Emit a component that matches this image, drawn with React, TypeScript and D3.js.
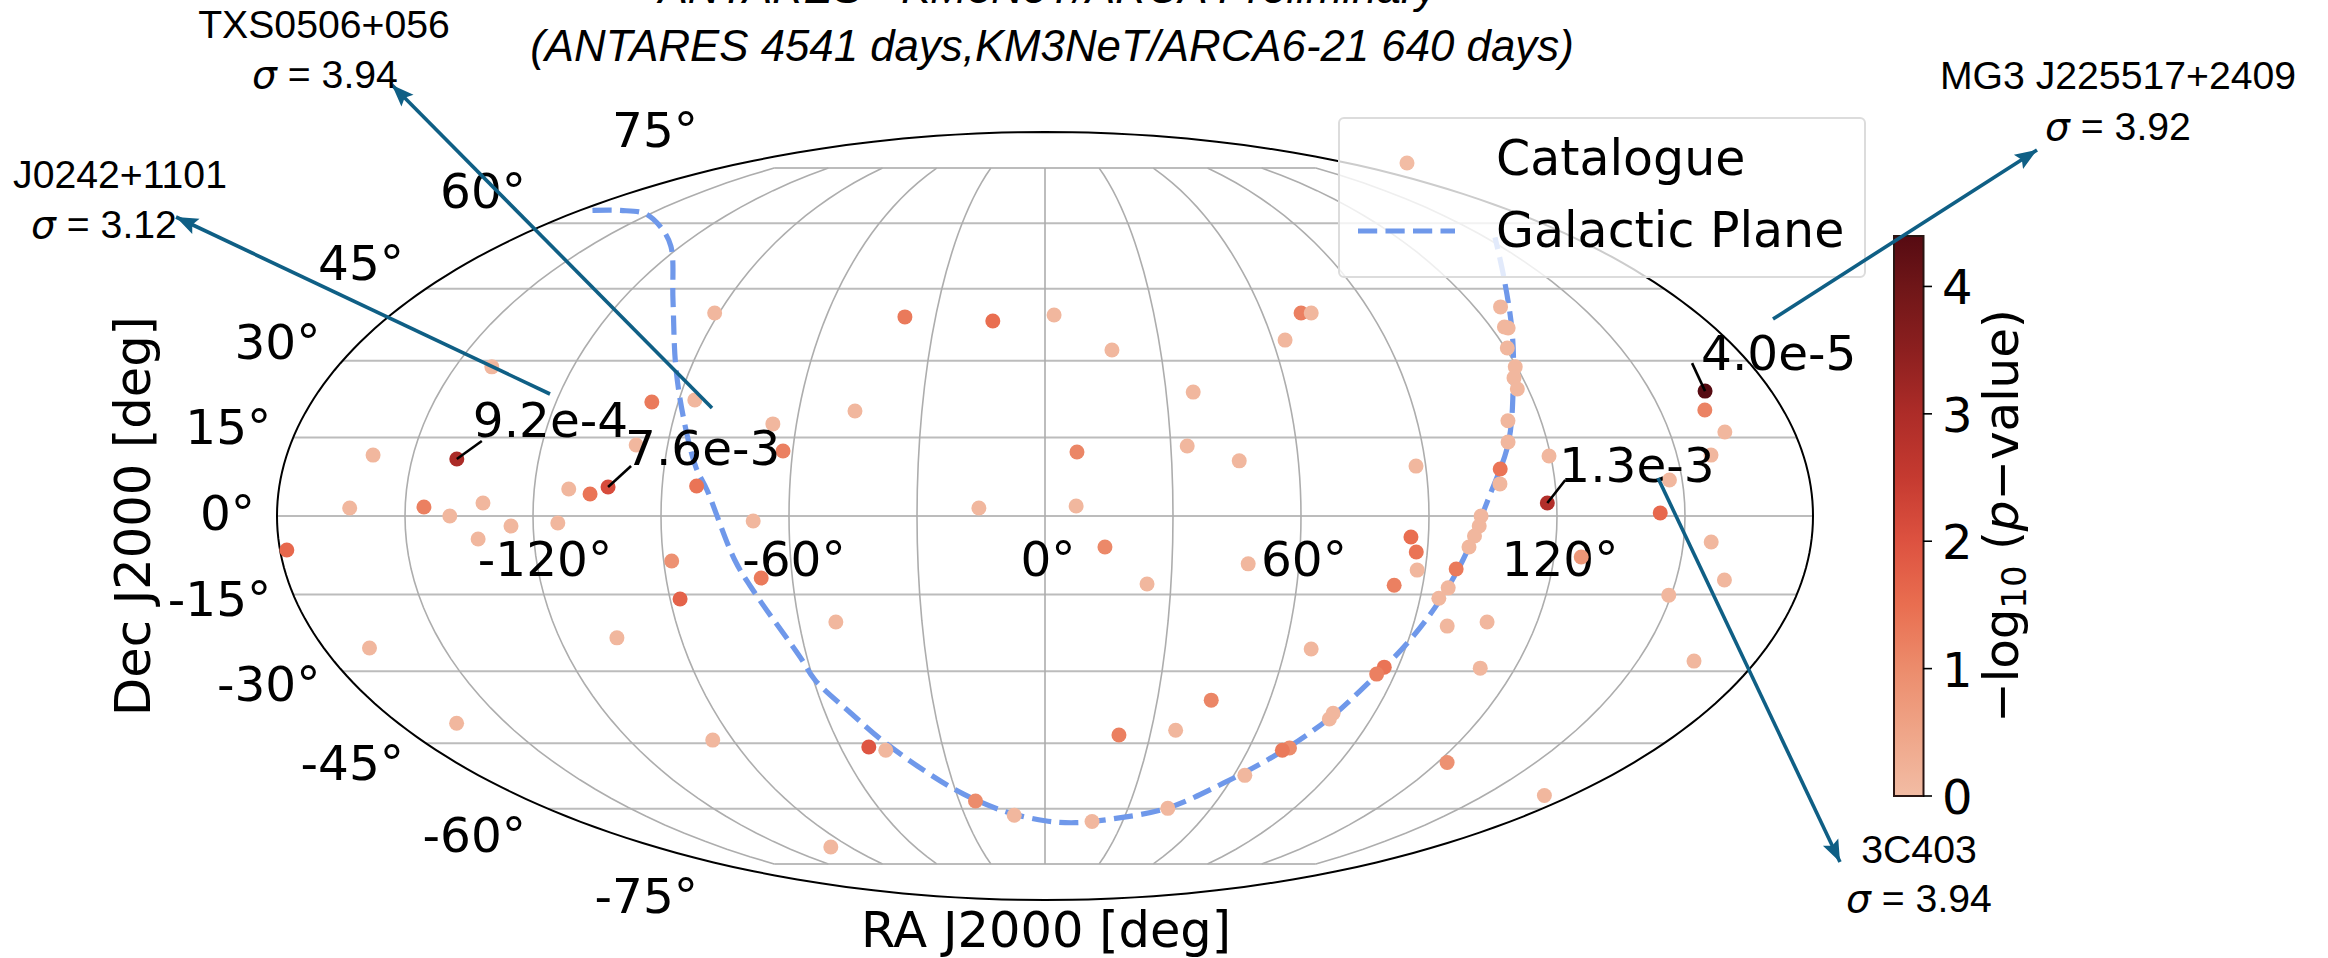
import React from 'react';
import * as d3 from 'd3';

// RA / Dec in degrees, sig = -log10(p)
const catalogueRa = [
  -91.2, -140.7, -96.5, -86.1, -65.7, -62.3, -97.5, -159.5, -139.4, -111.9, -106.8, -102.7, -81.9,
  -163, -145.6, -139.5, -131.8, -125.2, -114.2, -133.1, -178.4, -68.4, -88.1, -67.4, -87.6, -105.8,
  -168.6, -163.8, -95.9, -38.4, -14.2, 2.5, 70.7, 73.5, 63.3, 17.4, -46.3, 36.7, 33.9, 46, 7.6, 87.7,
  127.3, 123.7, 124.5, 120.5, 119.6, 117.8, 117.3, 112, 110.6, 107.5, 107, 119.6, 117.8, 163.6, 160.9,
  163.3, 158.1, 147, 144.2, 156.5, 161.5, 149.4, 126.4, 164.3, 170.7, -15.5, 7.3, 14.1, 24.3, 48,
  85.9, 87.4, 88.1, 83.2, 97.3, 96.2, 94.5, 102.2, 101.8, 100.8, 99.7, 98.4, 107.8, 111.1, 66.5, 86.5,
  85.3, 78.7, 78.5, 44.4, 36.9, 21.1, -51.7, -47.1, 71.9, 70.2, 63.5, 122.9, -24.3, -11.5, 18.2, 44.4,
  -99, -51,
];
const catalogueDec = [
  39.8, 28.8, 21.87, 22.26, 17.6, 12.39, 13.55, 11.6, 10.85, 5.13, 4.18, 5.5, 5.7,
  1.52, 1.71, 0, 2.47, -1.9, -1.33, -4.37, -6.47, -0.95, -8.56, -11.8, -15.85, -23.4,
  -25.4, -40.7, -44.3, 39, 38.15, 39.4, 39.8, 39.8, 34.2, 32.2, 20.1, 23.8, 13.35, 10.5, 12.2, 9.5,
  41.1, 36.9, 36.7, 32.6, 28.8, 26.6, 24.4, 18.2, 14.1, 8.95, 6.1, 11.43, 2.47, 24, 20.3,
  16.05, 11.6, 6.85, 0.57, -4.94, -12.2, -15.1, -7.8, -28, -56.8, 1.52, 1.9, -5.9, -12.97, -9.1,
  -4, -6.85, -10.3, -13.2, -10.1, -13.7, -15.7, 0, -1.9, -3.8, -5.9, -21.1, -20.3, -29.4, -25.6, -29.2,
  -30.6, -38.6, -39.8, -35.9, -42.2, -43.2, -45.8, -46.5, -46, -46.5, -52.1, -49.2, -58.1, -61.6, -63.2, -59.9,
  -70, -20.3,
];
const catalogueSig = [
  0.1, 0.1, 1.3, 0.1, 0.1, 1.2, 0.1, 0.1, 3.03, 0.1, 1.4, 2.12, 1.4,
  0.1, 1.2, 0.1, 0.1, 0.1, 0.1, 0.1, 1.6, 0.1, 0.9, 1.3, 1.7, 0.1,
  0.1, 0.1, 0.1, 1.3, 1.5, 0.1, 1.2, 0.1, 0.1, 0.1, 0.1, 0.1, 0.1, 0.1, 1.1, 0.1,
  0.1, 0.1, 0.1, 0.1, 0.1, 0.1, 0.1, 0.1, 0.1, 1.4, 0.1, 0.1, 2.89, 4.4, 1.15,
  0.1, 0.1, 0.1, 1.6, 0.1, 0.1, 0.1, 0.8, 0.1, 0.1, 0.1, 0.1, 1.05, 0.1, 0.1,
  1.5, 1.4, 0.1, 1.2, 1.3, 0.1, 0.1, 0.1, 0.1, 0.1, 0.1, 0.1, 0.1, 0.1, 0.1, 1.4,
  1.2, 0.1, 0.1, 1.1, 0.1, 1.2, 1.95, 0.1, 1.0, 1.3, 0.1, 0.9, 1.0, 0.1, 0.1, 0.1,
  0.1, 0.1,
];

const planeRa = [
  -175.1, -164.3, -152.1, -136.9, -123.2, -105.5, -93.9, -87.4, -82.5, -79.4, -73.2, -69.4, -61.7,
  -59.6, -53, -47.1, -36.9, -27.8, -15, 0, 11.9, 26.9, 44, 58.2, 69.9, 78.7, 83.1, 90, 94.6, 98.6,
  104.2, 110.6, 117, 124.6, 136.5, 153.3,
];
const planeDec = [
  63.2, 63.2, 62.4, 59.1, 54.5, 42.6, 28.8, 18.35, 9.3, 4.95, -8.37, -14.7, -27.2,
  -31.8, -38.6, -44.3, -51.6, -56.4, -60.6, -63, -63.5, -62.4, -59.9, -53.9, -47, -39.4, -33.8, -24.4, -16.6, -8.37,
  3.6, 13.9, 25.6, 35.7, 46.9, 56.6,
];

const raTicks = [-120, -60, 0, 60, 120];
const meridians = [-150, -120, -90, -60, -30, 0, 30, 60, 90, 120, 150];
const decTicks = [75, 60, 45, 30, 15, 0, -15, -30, -45, -60, -75];
const cbarTicks = [0, 1, 2, 3, 4];

const sigStops = [0, 0.5, 1, 1.5, 2, 2.5, 3, 3.5, 4, 4.4];
const sigColors = ['#f2bca4', '#efa588', '#ec8c6c', '#e96e50', '#dd5240', '#c53a30', '#ad2c28', '#8c1f1f', '#6f1618', '#560b12'];

// p-value labels near the hottest spots, dx/dy = text start and leader end relative to the point
const peaks = [
  { label: '9.2e-4', ra: -139.4, dec: 10.85, tx: 16, ty: -22, lx: 25, ly: -18 },
  { label: '7.6e-3', ra: -102.7, dec: 5.5, tx: 17, ty: -22, lx: 23, ly: -21 },
  { label: '1.3e-3', ra: 117.8, dec: 2.47, tx: 12, ty: -21, lx: 18, ly: -23 },
  { label: '4.0e-5', ra: 163.6, dec: 24, tx: -4, ty: -21, lx: -13, ly: -28 },
];

const arrowNames = ['TXS0506+056', 'J0242+1101', 'MG3 J225517+2409', '3C403'];
const arrowSigmas = ['3.94', '3.12', '3.92', '3.94'];
const arrowFrom = [[712, 408], [550, 394], [1773, 319], [1658, 478]];
const arrowTo = [[392, 85], [176, 217], [2037, 150], [1840, 862]];
const nameAt = [[324, 38], [120, 188], [2118, 89], [1919, 863]];
const sigmaAt = [[325, 88], [104, 238], [2118, 140], [1919, 912]];

const W = 2328;
const H = 958;
const CX = 1045;
const CY = 516;
const RX = 768;

// d3-geo has no Mollweide, the raw form is short enough
function mollweideRaw(lambda: number, phi: number): [number, number] {
  const target = Math.PI * Math.sin(phi);
  let theta = phi;
  for (let i = 0; i < 30; i++) {
    const d = (2 * theta + Math.sin(2 * theta) - target) / (2 + 2 * Math.cos(2 * theta) || 1e-9);
    theta -= d;
    if (Math.abs(d) < 1e-9) break;
  }
  return [(2 * Math.SQRT2 / Math.PI) * lambda * Math.cos(theta), Math.SQRT2 * Math.sin(theta)];
}

const projection = d3
  .geoProjection(mollweideRaw)
  .scale(RX / (2 * Math.SQRT2))
  .translate([CX, CY])
  .precision(0.1);
const geoPath = d3.geoPath(projection);
const project = (ra: number, dec: number) => projection([ra, dec]) as [number, number];

const sigColor = d3.scaleLinear<string>().domain(sigStops).range(sigColors).clamp(true);
const cbarY = d3.scaleLinear().domain([0, 4.396]).range([796, 236]);

const planeLine = d3
  .line<[number, number]>()
  .curve(d3.curveCatmullRom)(planeRa.map((ra, i) => project(ra, planeDec[i])));

const ink = '#000';
const dejavu = '"DejaVu Sans"';
const sans = '"Liberation Sans"';
const arrowBlue = '#0f5f85';
const planeBlue = '#6f98ea';

export default function App() {
  return (
    <svg width={W} height={H} viewBox={`0 0 ${W} ${H}`} style={{ position: 'absolute', left: 0, top: 0, background: '#fff' }}>
      <defs>
        <linearGradient id="cbar" x1="0" y1="1" x2="0" y2="0">
          {sigStops.map((s, i) => (
            <stop key={s} offset={s / 4.396} stopColor={sigColors[i]} />
          ))}
        </linearGradient>
        <marker id="head" markerUnits="userSpaceOnUse" markerWidth="26" markerHeight="22" refX="22" refY="11" orient="auto">
          <path d="M0,2.5 L22,11 L0,19.5 L4,11 Z" fill={arrowBlue} />
        </marker>
      </defs>

      <g fontFamily={sans} fontStyle="italic" fontSize={43.8} textAnchor="middle" fill={ink}>
        <text x={1048} y={3}>ANTARES - KM3NeT/ARCA Preliminary</text>
        <text x={1052} y={61}>(ANTARES 4541 days,KM3NeT/ARCA6-21 640 days)</text>
      </g>

      {/* grid */}
      <g fill="none">
        {decTicks.map((d) => {
          const edge = Math.abs(d) === 75 ? 150 : 180;
          const [x0, y] = project(-edge, d);
          const [x1] = project(edge, d);
          return <line key={d} x1={x0} x2={x1} y1={y} y2={y} stroke="#bcbcbc" strokeWidth={2} />;
        })}
        {meridians.map((m) => (
          <path
            key={m}
            d={geoPath({ type: 'LineString', coordinates: [[m, -75], [m, -40], [m, 0], [m, 40], [m, 75]] }) || ''}
            stroke="#adadad"
            strokeWidth={1.6}
          />
        ))}
        <path d={geoPath({ type: 'Sphere' }) || ''} stroke={ink} strokeWidth={2} />
      </g>

      {/* axis labels */}
      <g fontFamily={dejavu} fontSize={48.5} fill={ink}>
        {raTicks.map((r) => (
          <text key={r} x={project(r, 0)[0] + (r === -120 ? 12 : r < 0 ? 5 : 3)} y={576} textAnchor="middle">
            {r}°
          </text>
        ))}
        {decTicks.map((d) => {
          const [x, y] = project(-180, d);
          return (
            <text key={d} x={x - 22} y={530 + (y - CY) * 1.1} textAnchor="end">
              {d}°
            </text>
          );
        })}
      </g>
      <text x={CX + 1} y={947} textAnchor="middle" fontFamily={dejavu} fontSize={49.5} fill={ink}>RA J2000 [deg]</text>
      <text transform="translate(150,516) rotate(-90)" textAnchor="middle" fontFamily={dejavu} fontSize={49.5} fill={ink}>Dec J2000 [deg]</text>

      {/* galactic plane */}
      <path d={planeLine || ''} fill="none" stroke={planeBlue} strokeWidth={5.2} strokeDasharray="19.2 8.3" />

      {/* catalogue */}
      {catalogueRa.map((ra, i) => {
        const [x, y] = project(ra, catalogueDec[i]);
        return <circle key={i} cx={x} cy={y} r={7.5} fill={sigColor(catalogueSig[i])} />;
      })}

      {/* p-value labels */}
      {peaks.map((p) => {
        const [x, y] = project(p.ra, p.dec);
        return (
          <g key={p.label}>
            <line x1={x} y1={y} x2={x + p.lx} y2={y + p.ly} stroke={ink} strokeWidth={2.6} />
            <text x={x + p.tx} y={y + p.ty} fontFamily={dejavu} fontSize={48.5} fill={ink}>{p.label}</text>
          </g>
        );
      })}

      {/* legend */}
      <rect x={1339} y={118} width={526} height={159} rx={5} fill="#fff" fillOpacity={0.8} stroke="#dcdcdc" strokeWidth={2} />
      <circle cx={1407} cy={163} r={7.5} fill={sigColors[0]} />
      <line x1={1358} x2={1455} y1={231} y2={231} stroke={planeBlue} strokeWidth={5.2} strokeDasharray="19.2 8.3" />
      <g fontFamily={dejavu} fontSize={49} fill={ink}>
        <text x={1496} y={175}>Catalogue</text>
        <text x={1496} y={247}>Galactic Plane</text>
      </g>

      {/* colorbar */}
      <rect x={1894} y={cbarY(4.396)} width={29.5} height={cbarY(0) - cbarY(4.396)} fill="url(#cbar)" stroke="#2a1512" strokeWidth={2} />
      {cbarTicks.map((t) => (
        <g key={t}>
          <line x1={1923} x2={1932} y1={cbarY(t)} y2={cbarY(t)} stroke={ink} strokeWidth={1.6} />
          <text x={1942} y={cbarY(t) + 18} fontFamily={dejavu} fontSize={48} fill={ink}>{t}</text>
        </g>
      ))}
      <text transform="translate(2018,516) rotate(-90)" textAnchor="middle" fontFamily={dejavu} fontSize={48.3} fill={ink}>
        −log<tspan fontSize={34} dy={8}>10</tspan>
        <tspan dy={-8}> (</tspan>
        <tspan fontStyle="italic">p</tspan>−value)
      </text>

      {/* source arrows */}
      {arrowNames.map((n, i) => (
        <g key={n}>
          <line
            x1={arrowFrom[i][0]}
            y1={arrowFrom[i][1]}
            x2={arrowTo[i][0]}
            y2={arrowTo[i][1]}
            stroke={arrowBlue}
            strokeWidth={3.6}
            markerEnd="url(#head)"
          />
          <text x={nameAt[i][0]} y={nameAt[i][1]} textAnchor="middle" fontFamily={sans} fontSize={39.2} fill={ink}>{n}</text>
          <text x={sigmaAt[i][0]} y={sigmaAt[i][1]} textAnchor="middle" fontFamily={sans} fontSize={39.2} fill={ink}>
            <tspan fontFamily={dejavu} fontStyle="italic">σ</tspan> = {arrowSigmas[i]}
          </text>
        </g>
      ))}
    </svg>
  );
}
